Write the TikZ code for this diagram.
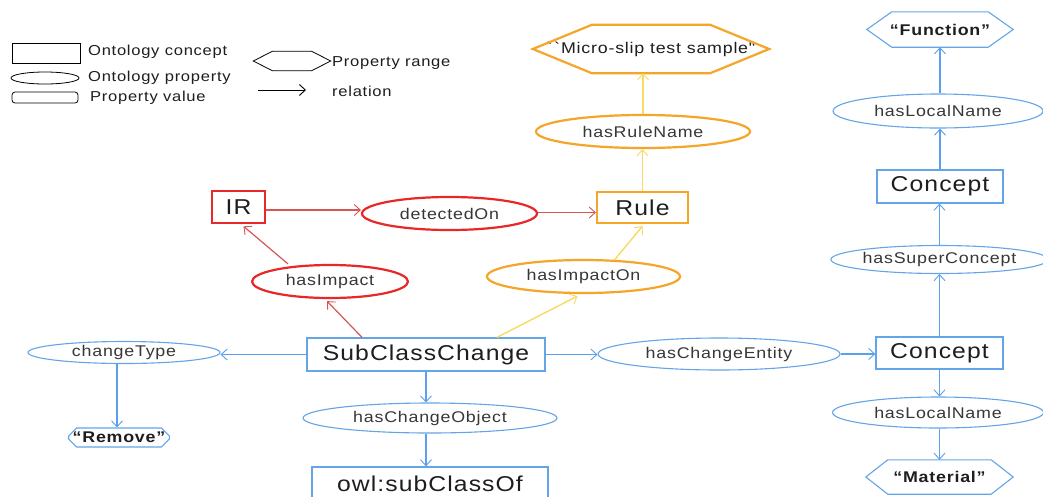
\documentclass[tikz,border=0pt]{standalone}
\usepackage{fontspec}
\usetikzlibrary{shapes.geometric,shapes.misc,arrows.meta}
\newfontfamily\lsf[FakeStretch=1.15,LetterSpace=5]{Liberation Sans}
\newfontfamily\lsfraw[FakeStretch=1.15,LetterSpace=5,Ligatures=TeXOff]{Liberation Sans}
\definecolor{bline}{RGB}{90,160,238}
\definecolor{bborder}{RGB}{100,165,232}
\definecolor{rbox}{RGB}{232,40,40}
\definecolor{rline}{RGB}{215,85,85}
\definecolor{obox}{RGB}{245,165,40}
\definecolor{yline}{RGB}{250,218,95}
\definecolor{txt}{RGB}{30,30,30}
\definecolor{ptxt}{RGB}{55,55,55}
\newcommand\hexdraw[3]{%
  \draw[#3] (#1.west) -- ([xshift=#2]#1.north west) -- ([xshift=-#2]#1.north east)
    -- (#1.east) -- ([xshift=-#2]#1.south east) -- ([xshift=#2]#1.south west) -- cycle;}
\tikzset{
  every node/.style={inner sep=0pt, text=txt},
  conc/.style={rectangle, draw=bborder, line width=1.3pt,
    font={\lsf\fontsize{21.5}{24}\selectfont}},
  prop/.style={ellipse, draw=bborder, line width=1.1pt, text=ptxt,
    font={\lsf\fontsize{15.5}{18}\selectfont}},
  hexn/.style={rectangle, font={\lsf\bfseries\fontsize{15.5}{18}\selectfont}},
  lgtext/.style={anchor=west, font={\lsf\fontsize{14.4}{16}\selectfont}},
  tip/.style={-{Straight Barb[length=6pt,width=11pt,line width=0.9pt]}},
  barrow/.style={tip, draw=bline, line width=1.8pt},
  rarrow/.style={tip, draw=rline, line width=1.2pt},
  yarrow/.style={tip, draw=yline, line width=1.4pt},
}
\begin{document}
\begin{tikzpicture}[x=1pt,y=-1pt]
\useasboundingbox[fill=white] (0,0) rectangle (1043,496);

% ---------- legend ----------
\node[rectangle, draw=black, line width=0.8pt, minimum width=68pt, minimum height=20pt] (lgC) at (46,53) {};
\node[lgtext] (lgCt) at (88,52) {Ontology concept};
\node[ellipse, draw=black, line width=0.8pt, minimum width=68pt, minimum height=12pt] (lgP) at (45,78) {};
\node[lgtext] (lgPt) at (88,78) {Ontology property};
\node[rectangle, rounded corners=3pt, draw=black, line width=0.8pt, minimum width=66pt, minimum height=11pt] (lgV) at (45,97.5) {};
\node[lgtext] (lgVt) at (90,98) {Property value};
\node[rectangle, minimum width=77pt, minimum height=19pt] (lgR) at (292,61) {};
\hexdraw{lgR}{19pt}{draw=black, line width=0.8pt}
\node[lgtext] (lgRt) at (332,63) {Property range};
\coordinate (la1) at (258,90);
\coordinate (la2) at (306,90);
\draw[tip, line width=1pt, draw=black] (la1) -- (la2);
\node[lgtext] (lgAt) at (332,91) {relation};

% ---------- right column ----------
\node[hexn, minimum width=146pt, minimum height=35pt] (fn) at (940,29.5) {“Function”};
\hexdraw{fn}{25pt}{draw=bborder, line width=1.1pt}
\node[prop, minimum width=210pt, minimum height=34pt] (ln1) at (938,111) {hasLocalName};
\node[conc, minimum width=126pt, minimum height=33pt] (c1) at (940,186.5) {Concept};
\node[prop, minimum width=203pt, minimum height=28pt] (sup) at (939.5,259.5) {hasSuperConcept};
\node[conc, minimum width=127pt, minimum height=32pt] (c2) at (939.5,353) {Concept};
\node[prop, minimum width=211pt, minimum height=31pt] (ln2) at (938,412.5) {hasLocalName};
\node[hexn, minimum width=147pt, minimum height=34pt] (mat) at (939.5,477) {“Material”};
\hexdraw{mat}{22pt}{draw=bborder, line width=1.1pt}

% ---------- middle ----------
\node[prop, minimum width=242pt, minimum height=32pt] (ent) at (719,354) {hasChangeEntity};
\node[conc, minimum width=238pt, minimum height=33pt] (scc) at (426,354.5) {SubClassChange};
\node[prop, minimum width=254pt, minimum height=30pt] (obj) at (430,418) {hasChangeObject};
\node[conc, minimum width=236pt, minimum height=33pt] (owl) at (430,483.5) {owl:subClassOf};
\node[prop, minimum width=192pt, minimum height=22pt] (ct) at (124,352.5) {changeType};
\node[chamfered rectangle, chamfered rectangle xsep=4pt, chamfered rectangle ysep=4pt, draw=bborder, line width=1.1pt,
  minimum width=98pt, minimum height=19pt, font={\lsf\bfseries\fontsize{15.5}{18}\selectfont}] (rem) at (119,437.5) {“Remove”};

% ---------- upper (red / orange) ----------
\node[rectangle, minimum width=53pt, minimum height=32pt, draw=rbox, line width=2.6pt,
  font={\lsf\fontsize{21.5}{24}\selectfont}] (ir) at (238.5,207) {IR};
\node[prop, draw=rbox, line width=2.2pt, minimum width=156pt, minimum height=33pt] (imp) at (330,281.5) {hasImpact};
\node[prop, draw=rbox, line width=2.2pt, minimum width=175pt, minimum height=33pt] (det) at (449.5,213.5) {detectedOn};
\node[conc, draw=obox, line width=2.2pt, minimum width=91pt, minimum height=31pt] (rule) at (642.5,207.5) {Rule};
\node[prop, draw=obox, line width=2.2pt, minimum width=193pt, minimum height=33pt] (impOn) at (583.5,276.5) {hasImpactOn};
\node[prop, draw=obox, line width=2.2pt, minimum width=214pt, minimum height=33pt] (rn) at (643,131.5) {hasRuleName};
\node[rectangle, minimum width=236pt, minimum height=48pt, font={\lsfraw\fontsize{15.5}{18}\selectfont}] (ms) at (651,49) {\char96\kern1.5pt\char96\kern1pt Micro-slip test sample"};
\hexdraw{ms}{59pt}{draw=obox, line width=2.2pt}

% ---------- connectors ----------
\draw[barrow] (scc.west) -- (scc.west -| ct.east);
\draw[barrow] ([xshift=-7pt]ct.south) -- ([xshift=-2pt]rem.north);
\draw[barrow] (scc.south) -- (scc.south |- obj.north);
\draw[barrow] (obj.south -| scc.south) -- (owl.north -| scc.south);
\draw[barrow] (scc.east) -- (scc.east -| ent.west);
\draw[barrow] (ent.east) -- (ent.east -| c2.west);
\draw[barrow] (c2.north) -- (c2.north |- sup.south);
\draw[barrow] (sup.north) -- (sup.north |- c1.south);
\draw[barrow] (c1.north) -- (c1.north |- ln1.south);
\draw[barrow] (c1.north |- ln1.north) -- (c1.north |- fn.south);
\draw[barrow] (c2.south) -- (c2.south |- ln2.north);
\draw[barrow] (c2.south |- ln2.south) -- (c2.south |- mat.north);

\draw[rarrow] ([xshift=-64pt]scc.north) -- ([xshift=-3pt,yshift=-2pt]imp.south);
\draw[rarrow] ([xshift=-42pt]imp.north) -- ([xshift=5pt,yshift=-2pt]ir.south);
\draw[rarrow] ([yshift=-3pt]ir.east) -- ([yshift=3.5pt]det.west);
\draw[rarrow] ([yshift=1pt]det.east) -- ([yshift=1pt]det.east -| rule.west);

\draw[yarrow] ([xshift=71pt]scc.north) -- ([xshift=-6pt,yshift=-2pt]impOn.south);
\draw[yarrow] ([xshift=31pt,yshift=-1pt]impOn.north) -- ([yshift=-2pt]rule.south);
\draw[yarrow] (rule.north) -- (rule.north |- rn.south);
\draw[yarrow] (rn.north) -- (rn.north |- ms.south);
\end{tikzpicture}
\end{document}
